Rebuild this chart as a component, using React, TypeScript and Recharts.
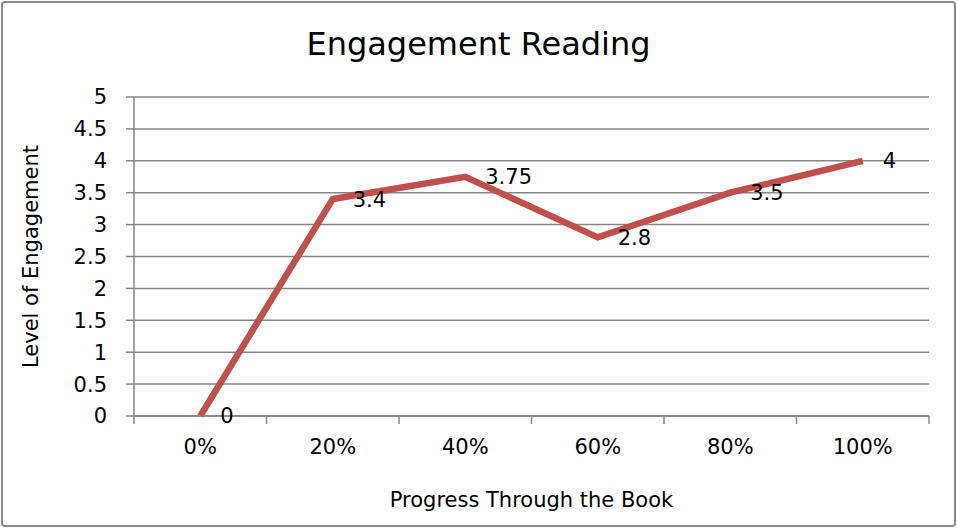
import React from 'react';
import { CartesianGrid, Label, LabelList, Line, LineChart, XAxis, YAxis } from 'recharts';

const categories = ['0%', '20%', '40%', '60%', '80%', '100%'];
const engagement = [0, 3.4, 3.75, 2.8, 3.5, 4];
const yTicks = [0, 0.5, 1, 1.5, 2, 2.5, 3, 3.5, 4, 4.5, 5];

const data = categories.map((c, i) => ({ idx: i, name: c, value: engagement[i] }));
const boundaryTicks = categories.map((_, i) => i - 0.5).concat([categories.length - 0.5]);
const centerTicks = categories.map((_, i) => i);

const font = '"DejaVu Sans", sans-serif';
const grey = '#868686';

const App = () => {
  return (
    <div style={{ position: 'absolute', left: 0, top: 0, width: 957, height: 528, fontFamily: font }}>
      <div
        style={{
          position: 'absolute', left: 1, top: 1, width: 951, height: 522,
          border: '2px solid #8a8a8a', borderRadius: 4,
        }}
      />
      <div
        style={{
          position: 'absolute', left: 0, top: 24, width: 957, textAlign: 'center',
          fontSize: 32, color: '#000', lineHeight: '40px',
        }}
      >
        Engagement Reading
      </div>
      <LineChart
        width={957}
        height={528}
        data={data}
        margin={{ top: 97, right: 28, left: 0, bottom: 0 }}
        style={{ position: 'absolute', left: 0, top: 0 }}
      >
        <CartesianGrid vertical={false} stroke={grey} strokeWidth={1.5} />
        <XAxis
          dataKey="idx"
          type="number"
          domain={[-0.5, categories.length - 0.5]}
          ticks={boundaryTicks}
          tickFormatter={() => ''}
          tickSize={8}
          height={8}
          stroke={grey}
          strokeWidth={1.5}
          interval={0}
        />
        <XAxis
          xAxisId="cat"
          dataKey="idx"
          type="number"
          domain={[-0.5, categories.length - 0.5]}
          ticks={centerTicks}
          tickFormatter={(v: number) => categories[v]}
          axisLine={false}
          tickLine={false}
          tickSize={0}
          tickMargin={15}
          height={104}
          interval={0}
          tick={{ fill: '#000', fontSize: 21, fontFamily: font }}
        >
          <Label
            value="Progress Through the Book"
            position="insideBottom"
            offset={21}
            style={{ fill: '#000', fontSize: 21, fontFamily: font }}
          />
        </XAxis>
        <YAxis
          domain={[0, 5]}
          ticks={yTicks}
          width={134}
          tickSize={8}
          tickMargin={19}
          stroke={grey}
          strokeWidth={1.5}
          interval={0}
          tick={{ fill: '#000', fontSize: 21, fontFamily: font }}
        >
          <Label
            value="Level of Engagement"
            angle={-90}
            position="insideLeft"
            offset={31}
            style={{ fill: '#000', fontSize: 21, fontFamily: font, textAnchor: 'middle' }}
          />
        </YAxis>
        <Line
          type="linear"
          dataKey="value"
          stroke="#C0504D"
          strokeWidth={6.5}
          dot={false}
          isAnimationActive={false}
        >
          <LabelList
            dataKey="value"
            position="right"
            offset={20}
            style={{ fill: '#000', fontSize: 21, fontFamily: font }}
          />
        </Line>
      </LineChart>
    </div>
  );
};

export default App;
